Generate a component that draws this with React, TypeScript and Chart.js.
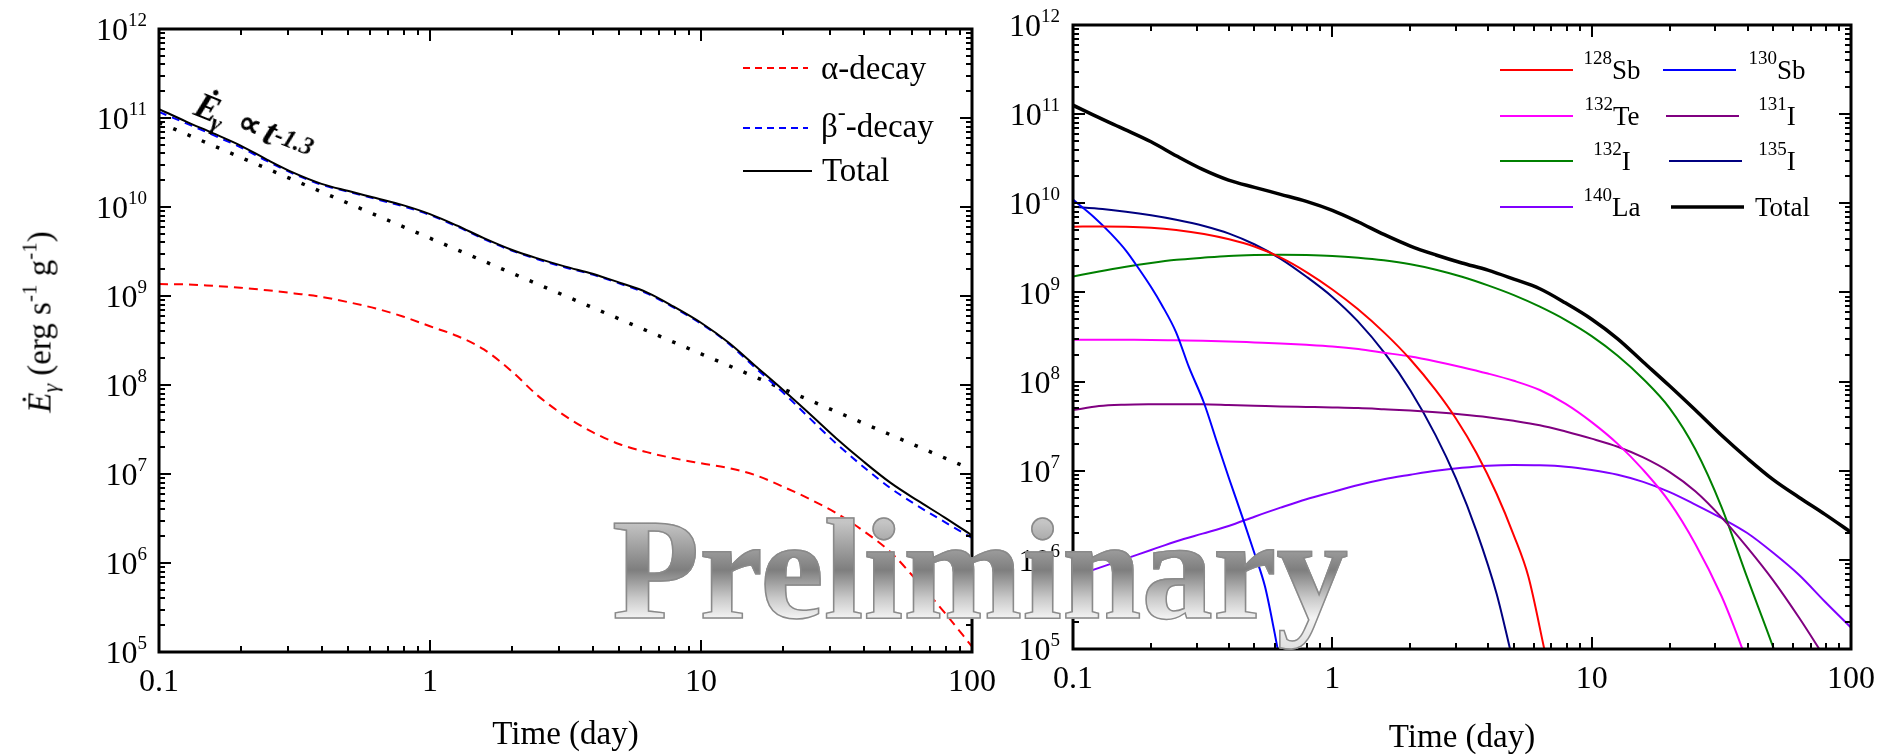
import React, { useEffect, useRef, useState } from 'react';
import { Chart, registerables } from 'chart.js';

Chart.register(...registerables);

const SERIF = '"Liberation Serif", "Times New Roman", Times, serif';

// ---------- shared axes ----------
const xTickValues = [0.1, 1, 10, 100];
const xTickLabels = ['0.1', '1', '10', '100'];
const yTickExponents = [5, 6, 7, 8, 9, 10, 11, 12];

// ---------- left panel (days, erg s^-1 g^-1) ----------
const timeGrid = [0.1, 0.126, 0.158, 0.2, 0.251, 0.316, 0.398, 0.501, 0.631, 0.794, 1, 1.26, 1.58, 2, 2.51, 3.16, 3.98, 5.01, 6.31, 7.94, 10, 12.6, 15.8, 20, 25.1, 31.6, 39.8, 50.1, 63.1, 79.4, 100];
const totalRate = [1.26e11, 9.12e10, 6.76e10, 4.9e10, 3.39e10, 2.4e10, 1.82e10, 1.51e10, 1.26e10, 1.05e10, 8.32e9, 6.17e9, 4.47e9, 3.31e9, 2.63e9, 2.14e9, 1.78e9, 1.41e9, 1.1e9, 7.59e8, 5.01e8, 3.02e8, 1.66e8, 8.91e7, 4.79e7, 2.51e7, 1.38e7, 7.94e6, 5.01e6, 3.24e6, 2.04e6];
const betaRate = [1.17e11, 8.71e10, 6.46e10, 4.68e10, 3.27e10, 2.34e10, 1.78e10, 1.48e10, 1.23e10, 1.02e10, 8.13e9, 6.03e9, 4.37e9, 3.24e9, 2.57e9, 2.09e9, 1.74e9, 1.38e9, 1.07e9, 7.41e8, 4.9e8, 2.95e8, 1.58e8, 8.32e7, 4.27e7, 2.19e7, 1.2e7, 6.92e6, 4.37e6, 2.88e6, 1.91e6];
const alphaRate = [1.36e9, 1.35e9, 1.3e9, 1.24e9, 1.16e9, 1.07e9, 9.77e8, 8.51e8, 7.24e8, 5.89e8, 4.57e8, 3.55e8, 2.51e8, 1.43e8, 7.5e7, 4.47e7, 2.95e7, 2.16e7, 1.76e7, 1.5e7, 1.32e7, 1.17e7, 9.77e6, 7.24e6, 5.25e6, 3.63e6, 2.29e6, 1.32e6, 6.17e5, 2.75e5, 1.15e5];
const powerLawTime = [0.1, 1, 10, 100];
const powerLawRate = [8.9e10, 4.46e9, 2.24e8, 1.12e7];

// ---------- right panel: isotopes ----------
const sb128Time = [0.1, 0.13, 0.16, 0.2, 0.25, 0.32, 0.4, 0.5, 0.63, 0.8, 1, 1.25, 1.6, 2, 2.5, 3, 3.6, 4.3, 5, 5.7, 6.6];
const sb128Rate = [5.46e9, 5.5e9, 5.46e9, 5.31e9, 5.01e9, 4.52e9, 3.94e9, 3.27e9, 2.47e9, 1.67e9, 1.08e9, 6.55e8, 3.45e8, 1.77e8, 8.07e7, 3.83e7, 1.57e7, 5.52e6, 1.91e6, 6.5e5, 9.33e4];
const sb130Time = [0.1, 0.12, 0.14, 0.16, 0.18, 0.2, 0.22, 0.25, 0.28, 0.32, 0.36, 0.4, 0.45, 0.5, 0.55, 0.6, 0.62];
const sb130Rate = [1.1e10, 7.08e9, 4.57e9, 2.95e9, 1.82e9, 1.15e9, 7.24e8, 3.55e8, 1.45e8, 5.75e7, 2.04e7, 8.13e6, 3.02e6, 1.2e6, 5.01e5, 1.48e5, 8.91e4];
const te132Time = [0.1, 0.126, 0.158, 0.2, 0.251, 0.316, 0.398, 0.501, 0.631, 0.794, 1, 1.26, 1.58, 2, 2.51, 3.16, 3.98, 5.01, 6.31, 7.94, 10, 12.6, 15.8, 20, 25.1, 31.6, 35.5, 38.9];
const te132Rate = [2.95e8, 2.95e8, 2.94e8, 2.93e8, 2.9e8, 2.87e8, 2.82e8, 2.75e8, 2.68e8, 2.59e8, 2.48e8, 2.32e8, 2.11e8, 1.91e8, 1.68e8, 1.45e8, 1.23e8, 1.02e8, 8.04e7, 5.62e7, 3.51e7, 2.0e7, 1.02e7, 4.42e6, 1.51e6, 3.98e5, 1.74e5, 8.51e4];
const i131Time = [0.1, 0.126, 0.158, 0.2, 0.251, 0.316, 0.398, 0.501, 0.631, 0.794, 1, 1.26, 1.58, 2, 2.51, 3.16, 3.98, 5.01, 6.31, 7.94, 10, 12.6, 15.8, 20, 25.1, 31.6, 39.8, 50.1, 63.1, 79.4];
const i131Rate = [4.79e7, 5.31e7, 5.5e7, 5.56e7, 5.57e7, 5.56e7, 5.47e7, 5.37e7, 5.25e7, 5.19e7, 5.13e7, 5.05e7, 4.9e7, 4.73e7, 4.52e7, 4.27e7, 3.98e7, 3.63e7, 3.24e7, 2.75e7, 2.29e7, 1.86e7, 1.41e7, 9.66e6, 5.89e6, 3.02e6, 1.38e6, 5.89e5, 2.24e5, 7.94e4];
const i132Time = [0.1, 0.126, 0.158, 0.2, 0.251, 0.316, 0.398, 0.501, 0.631, 0.794, 1, 1.26, 1.58, 2, 2.51, 3.16, 3.98, 5.01, 6.31, 7.94, 10, 12.6, 15.8, 20, 25.1, 31.6, 39.8, 50.1, 52.5];
const i132Rate = [1.51e9, 1.72e9, 1.93e9, 2.14e9, 2.32e9, 2.45e9, 2.57e9, 2.63e9, 2.65e9, 2.63e9, 2.57e9, 2.45e9, 2.29e9, 2.07e9, 1.8e9, 1.5e9, 1.2e9, 9.33e8, 6.92e8, 4.9e8, 3.24e8, 1.95e8, 1.07e8, 5.01e7, 1.74e7, 3.98e6, 6.31e5, 1.05e5, 7.08e4];
const i135Time = [0.1, 0.13, 0.16, 0.2, 0.25, 0.32, 0.4, 0.5, 0.63, 0.8, 1, 1.25, 1.6, 2, 2.5, 3, 3.6, 4.3, 4.9];
const i135Rate = [9.12e9, 8.61e9, 8.04e9, 7.33e9, 6.53e9, 5.56e9, 4.57e9, 3.47e9, 2.4e9, 1.48e9, 8.91e8, 4.79e8, 2.04e8, 7.94e7, 2.51e7, 8.13e6, 2.09e6, 4.17e5, 8.71e4];
const la140Time = [0.1, 0.126, 0.158, 0.2, 0.251, 0.316, 0.398, 0.501, 0.631, 0.794, 1, 1.26, 1.58, 2, 2.51, 3.16, 3.98, 5.01, 6.31, 7.94, 10, 12.6, 15.8, 20, 25.1, 31.6, 39.8, 50.1, 63.1, 79.4, 100];
const la140Rate = [6.46e5, 8.13e5, 1.02e6, 1.29e6, 1.62e6, 1.97e6, 2.4e6, 3.05e6, 3.85e6, 4.79e6, 5.75e6, 6.92e6, 8.04e6, 9.02e6, 1.0e7, 1.08e7, 1.14e7, 1.16e7, 1.15e7, 1.11e7, 1.02e7, 9.02e6, 7.5e6, 5.75e6, 4.17e6, 2.95e6, 2.0e6, 1.2e6, 6.76e5, 3.39e5, 1.74e5];

const isotopeMass = ['128', '130', '132', '131', '132', '135', '140'];
const isotopeSymbol = ['Sb', 'Sb', 'Te', 'I', 'I', 'I', 'La'];
const isotopeColor = ['#ff0000', '#0000ff', '#ff00ff', '#800080', '#008000', '#000080', '#8000ff'];
const isotopeTimes = [sb128Time, sb130Time, te132Time, i131Time, i132Time, i135Time, la140Time];
const isotopeRates = [sb128Rate, sb130Rate, te132Rate, i131Rate, i132Rate, i135Rate, la140Rate];

const zip = (xs: number[], ys: number[]) => xs.map((x, i) => ({ x, y: ys[i] }));

// ---------- canvas decorations: frame + ticks + legend swatches ----------
function drawFrame(chart: any) {
  const { ctx, chartArea } = chart;
  const { left, right, top, bottom } = chartArea;
  const xs = chart.scales.x;
  const ys = chart.scales.y;
  ctx.save();
  ctx.strokeStyle = '#000';
  ctx.lineWidth = 2;
  ctx.beginPath();
  for (let d = -1; d <= 2; d++) {
    for (let k = 1; k <= 9; k++) {
      const v = k * Math.pow(10, d);
      if (v > 100.0001) continue;
      const px = Math.round(xs.getPixelForValue(v));
      const len = k === 1 ? 12 : 6;
      ctx.moveTo(px, bottom); ctx.lineTo(px, bottom - len);
      ctx.moveTo(px, top); ctx.lineTo(px, top + len);
    }
  }
  for (let d = 5; d <= 12; d++) {
    for (let k = 1; k <= 9; k++) {
      const v = k * Math.pow(10, d);
      if (v > 1.0001e12) continue;
      const py = Math.round(ys.getPixelForValue(v));
      const len = k === 1 ? 12 : 6;
      ctx.moveTo(left, py); ctx.lineTo(left + len, py);
      ctx.moveTo(right, py); ctx.lineTo(right - len, py);
    }
  }
  ctx.stroke();
  ctx.lineWidth = 3;
  ctx.strokeRect(left, top, right - left, bottom - top);
  ctx.restore();
}

const leftLegendY = [68, 128, 171];
const leftPlugin = {
  id: 'leftDecor',
  afterDraw(chart: any) {
    const { ctx } = chart;
    drawFrame(chart);
    ctx.save();
    const rows = [
      { y: leftLegendY[0], color: '#ff0000', dash: [7, 5], x2: 808 },
      { y: leftLegendY[1], color: '#0000ff', dash: [7, 5], x2: 808 },
      { y: leftLegendY[2], color: '#000000', dash: [], x2: 812 },
    ];
    rows.forEach((r) => {
      ctx.beginPath();
      ctx.strokeStyle = r.color;
      ctx.lineWidth = 2;
      ctx.setLineDash(r.dash);
      ctx.moveTo(743, r.y);
      ctx.lineTo(r.x2, r.y);
      ctx.stroke();
    });
    ctx.restore();
  },
};

const legendRowsY = [70, 116, 161, 207];
const legendCol1 = [0, 2, 4, 6];
const legendCol2 = [1, 3, 5];
const rightPlugin = {
  id: 'rightDecor',
  afterDraw(chart: any) {
    const { ctx } = chart;
    drawFrame(chart);
    ctx.save();
    const seg = (color: string, w: number, x1: number, x2: number, y: number) => {
      ctx.beginPath();
      ctx.strokeStyle = color;
      ctx.lineWidth = w;
      ctx.moveTo(x1, y);
      ctx.lineTo(x2, y);
      ctx.stroke();
    };
    legendCol1.forEach((i, r) => seg(isotopeColor[i], 2, 500, 573, legendRowsY[r]));
    legendCol2.forEach((i, r) => seg(isotopeColor[i], 2, 663 + r * 3, 736 + r * 3, legendRowsY[r]));
    seg('#000000', 3.5, 671, 744, legendRowsY[3]);
    ctx.restore();
  },
};

function axes(yWidth: number, xHeight: number) {
  return {
    x: {
      type: 'logarithmic',
      position: 'bottom',
      min: 0.1,
      max: 100,
      ticks: { display: false },
      grid: { display: false },
      border: { display: false },
      afterFit: (s: any) => { s.height = xHeight; },
    },
    y: {
      type: 'logarithmic',
      position: 'left',
      min: 1e5,
      max: 1e12,
      ticks: { display: false },
      grid: { display: false },
      border: { display: false },
      afterFit: (s: any) => { s.width = yWidth; },
    },
  };
}

const lineBase = { pointRadius: 0, borderWidth: 2, fill: false, cubicInterpolationMode: 'monotone' };

// ---------- HTML text helpers ----------
const ASC = 0.8375; // baseline offset (em) inside a line-height:1 box for Liberation Serif

function Txt(props: any) {
  const { x, y, size, align, italic, bold, children } = props;
  const tx = align === 'center' ? 'translateX(-50%)' : align === 'right' ? 'translateX(-100%)' : undefined;
  return (
    <div
      style={{
        position: 'absolute',
        left: x,
        top: y - ASC * size,
        height: size,
        fontSize: size,
        lineHeight: 1,
        fontFamily: SERIF,
        fontStyle: italic ? 'italic' : 'normal',
        fontWeight: bold ? 'bold' : 'normal',
        whiteSpace: 'nowrap',
        color: '#000',
        transform: tx,
      }}
    >
      {children}
    </div>
  );
}

function Shift(props: any) {
  const { size, dy, italic, bold, children } = props;
  return (
    <span
      style={{
        fontSize: size,
        position: 'relative',
        top: dy,
        lineHeight: 0,
        fontStyle: italic ? 'italic' : undefined,
        fontWeight: bold ? 'bold' : undefined,
      }}
    >
      {children}
    </span>
  );
}

type PanelGeom = { ox: number; area: any; xs: number[]; ys: number[] };

function AxisLabels({ g, gap, titleBaseline }: { g: PanelGeom; gap: number; titleBaseline: number }) {
  const { ox, area, xs, ys } = g;
  return (
    <>
      {xs.map((px, i) => (
        <Txt key={'x' + i} x={ox + px} y={area.bottom + 39} size={32} align="center">
          {xTickLabels[i]}
        </Txt>
      ))}
      {ys.map((py, i) => (
        <Txt key={'y' + i} x={ox + area.left - gap} y={py + 11} size={32} align="right">
          10<Shift size={19} dy={-14}>{yTickExponents[i]}</Shift>
        </Txt>
      ))}
      <Txt x={ox + (area.left + area.right) / 2} y={titleBaseline} size={33} align="center">
        Time (day)
      </Txt>
    </>
  );
}

export default function App() {
  const leftRef = useRef<HTMLCanvasElement>(null);
  const rightRef = useRef<HTMLCanvasElement>(null);
  const [geom, setGeom] = useState<{ L: PanelGeom; R: PanelGeom } | null>(null);

  useEffect(() => {
    const left = new Chart(leftRef.current as HTMLCanvasElement, {
      type: 'line',
      data: {
        datasets: [
          { ...lineBase, label: 'Total', data: zip(timeGrid, totalRate), borderColor: '#000000' },
          { ...lineBase, label: 'β⁻-decay', data: zip(timeGrid, betaRate), borderColor: '#0000ff', borderDash: [8, 6] },
          { ...lineBase, label: 'α-decay', data: zip(timeGrid, alphaRate), borderColor: '#ff0000', borderDash: [9, 6] },
          { ...lineBase, label: 't^-1.3', data: zip(powerLawTime, powerLawRate), borderColor: '#000000', borderWidth: 3.5, borderDash: [3.5, 12], cubicInterpolationMode: 'default', tension: 0 },
        ],
      } as any,
      options: {
        responsive: false,
        animation: false,
        events: [],
        layout: { padding: { left: 0, right: 28, top: 29, bottom: 0 } },
        plugins: { legend: { display: false }, tooltip: { enabled: false } },
        scales: axes(159, 102) as any,
      },
      plugins: [leftPlugin],
    });

    const rightSets: any[] = [
      { ...lineBase, label: 'Total', data: zip(timeGrid, totalRate), borderColor: '#000000', borderWidth: 3.5 },
    ];
    isotopeMass.forEach((m, i) => {
      rightSets.push({
        ...lineBase,
        label: m + isotopeSymbol[i],
        data: zip(isotopeTimes[i], isotopeRates[i]),
        borderColor: isotopeColor[i],
      });
    });
    const right = new Chart(rightRef.current as HTMLCanvasElement, {
      type: 'line',
      data: { datasets: rightSets } as any,
      options: {
        responsive: false,
        animation: false,
        events: [],
        layout: { padding: { left: 0, right: 37, top: 25, bottom: 0 } },
        plugins: { legend: { display: false }, tooltip: { enabled: false } },
        scales: axes(73, 105) as any,
      },
      plugins: [rightPlugin],
    });

    const panel = (c: any, ox: number): PanelGeom => ({
      ox,
      area: { ...c.chartArea },
      xs: xTickValues.map((v) => c.scales.x.getPixelForValue(v)),
      ys: yTickExponents.map((e) => c.scales.y.getPixelForValue(Math.pow(10, e))),
    });
    setGeom({ L: panel(left, 0), R: panel(right, 1000) });

    return () => {
      left.destroy();
      right.destroy();
    };
  }, []);

  const watermark: React.CSSProperties = {
    position: 'absolute',
    left: 612,
    top: 480,
    height: 180,
    lineHeight: '180px',
    fontFamily: SERIF,
    fontWeight: 'bold',
    fontSize: 143,
    whiteSpace: 'nowrap',
    backgroundImage:
      'linear-gradient(to bottom, #d0d0d0 0px, #c4c4c4 43px, #7e7e7e 90px, #c9c9c9 118px, #f3f3f3 138px, #e2e2e2 165px, #d4d4d4 180px)',
    WebkitBackgroundClip: 'text',
    backgroundClip: 'text',
    color: 'transparent',
    WebkitTextFillColor: 'transparent',
    WebkitTextStroke: '1.5px #8a8a8a',
    pointerEvents: 'none',
  } as any;

  const annB = ASC * 36;
  const annRun = (x: number, f: number, dy: number, italic: boolean, text: string, key: string) => (
    <div
      key={key}
      style={{
        position: 'absolute',
        left: x,
        top: annB - ASC * f + dy,
        fontSize: f,
        lineHeight: 1,
        fontStyle: italic ? 'italic' : 'normal',
        fontWeight: 'bold',
        whiteSpace: 'nowrap',
      }}
    >
      {text}
    </div>
  );

  return (
    <div style={{ position: 'absolute', left: 0, top: 0, width: 1888, height: 754, background: '#ffffff', overflow: 'hidden', fontFamily: SERIF, color: '#000' }}>
      <canvas ref={leftRef} width={1000} height={754} style={{ position: 'absolute', left: 0, top: 0, width: 1000, height: 754 }} />
      <canvas ref={rightRef} width={888} height={754} style={{ position: 'absolute', left: 1000, top: 0, width: 888, height: 754 }} />

      {geom && (
        <>
          <AxisLabels g={geom.L} gap={12} titleBaseline={745} />
          <AxisLabels g={geom.R} gap={13} titleBaseline={748} />
        </>
      )}

      {/* y-axis title (left panel) */}
      <div
        style={{
          position: 'absolute',
          left: 40,
          top: 322,
          height: 33,
          fontSize: 33,
          lineHeight: 1,
          whiteSpace: 'nowrap',
          transform: 'translate(-50%, -50%) rotate(-90deg)',
        }}
      >
        <i>Ė</i>
        <Shift size={22} dy={7} italic>γ</Shift>
        {' (erg s'}
        <Shift size={21} dy={-14}>-1</Shift>
        {' g'}
        <Shift size={21} dy={-14}>-1</Shift>
        {')'}
      </div>

      {/* power-law annotation */}
      <div
        style={{
          position: 'absolute',
          left: 192,
          top: 114 - annB,
          width: 200,
          height: 36,
          transformOrigin: `0px ${annB}px`,
          transform: 'rotate(22deg)',
        }}
      >
        {annRun(0, 36, 0, true, 'Ė', 'a1')}
        {annRun(21, 24, 7, true, 'γ', 'a2')}
        {annRun(46, 32, -2, false, '∝', 'a3')}
        {annRun(74, 38, 0, true, 't', 'a4')}
        {annRun(85, 25, -5, true, '-1.3', 'a5')}
      </div>

      {/* left legend text */}
      <Txt x={821} y={80} size={33}>α-decay</Txt>
      <Txt x={821} y={138} size={33}>
        β<Shift size={24} dy={-17}>-</Shift>-decay
      </Txt>
      <Txt x={822} y={182} size={33}>Total</Txt>

      {/* right legend text */}
      {legendCol1.map((i, r) => (
        <Txt key={'c1' + i} x={1612} y={legendRowsY[r] + 10} size={27} align="center">
          <Shift size={19} dy={-15}>{isotopeMass[i]}</Shift>
          {isotopeSymbol[i]}
        </Txt>
      ))}
      {legendCol2.map((i, r) => (
        <Txt key={'c2' + i} x={1777} y={legendRowsY[r] + 10} size={27} align="center">
          <Shift size={19} dy={-15}>{isotopeMass[i]}</Shift>
          {isotopeSymbol[i]}
        </Txt>
      ))}
      <Txt x={1755} y={legendRowsY[3] + 10} size={27}>Total</Txt>

      <div style={watermark}>Preliminary</div>
    </div>
  );
}
